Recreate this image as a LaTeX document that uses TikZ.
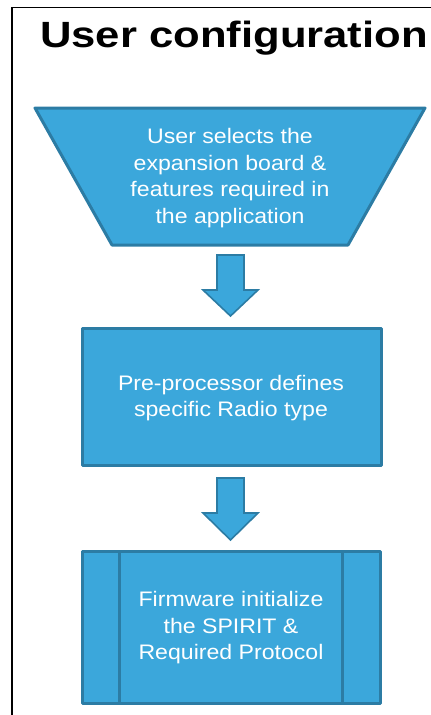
\documentclass[tikz,border=0pt]{standalone}
\usepackage{fontspec}
\setmainfont{Liberation Sans}
\newfontfamily\titlefont[FakeStretch=1.195]{Liberation Sans}
\newfontfamily\boxfont[FakeStretch=1.1]{Liberation Sans}
\definecolor{boxfill}{RGB}{59,167,219}
\definecolor{boxline}{RGB}{44,124,164}
\tikzset{
  flowbox/.style={fill=boxfill, draw=boxline, line width=3pt, line join=round},
  flowtext/.style={text=white, align=center, font=\boxfont\fontsize{21}{26.5}\selectfont},
  blockarrow/.style={fill=boxfill, draw=boxline, line width=1.6pt, line join=miter},
}
\begin{document}
\begin{tikzpicture}[x=1pt, y=-1pt]
  \useasboundingbox (0,0) rectangle (431,715);
  % frame lines
  \draw[line width=1.5pt] (12,715) -- (12,7.5) -- (431,7.5);
  % title
  \node[anchor=base west, inner sep=0pt, font=\titlefont\fontsize{36.5}{36.5}\selectfont\bfseries] (title) at (40,47) {User configuration};

  % step 1: manual input trapezoid
  \draw[flowbox] (35,108) -- (425,108) -- (348,245) -- (112,245) -- cycle;
  \node[flowtext] (sel) at (230,178) {User selects the\\expansion board \&\\features required in\\the application};

  % step 2: process box
  \draw[flowbox] (82,328) rectangle (381,465);
  \node[flowtext] (pre) at (231,398) {Pre-processor defines\\specific Radio type};

  % step 3: predefined process box
  \draw[flowbox] (82,551) rectangle (380,703);
  \draw[boxline, line width=3pt] (119,551) -- (119,703) (342,551) -- (342,703);
  \node[flowtext] (fw) at (231,628) {Firmware initialize\\the SPIRIT \&\\Required Protocol};

  % block arrows between steps
  \draw[blockarrow] (217,255) -- (244,255) -- (244,290) -- (258,290) -- (230.5,316)
     -- (203,290) -- (217,290) -- cycle;
  \draw[blockarrow] (217,478) -- (244,478) -- (244,513) -- (258,513) -- (230.5,540)
     -- (203,513) -- (217,513) -- cycle;
\end{tikzpicture}
\end{document}
